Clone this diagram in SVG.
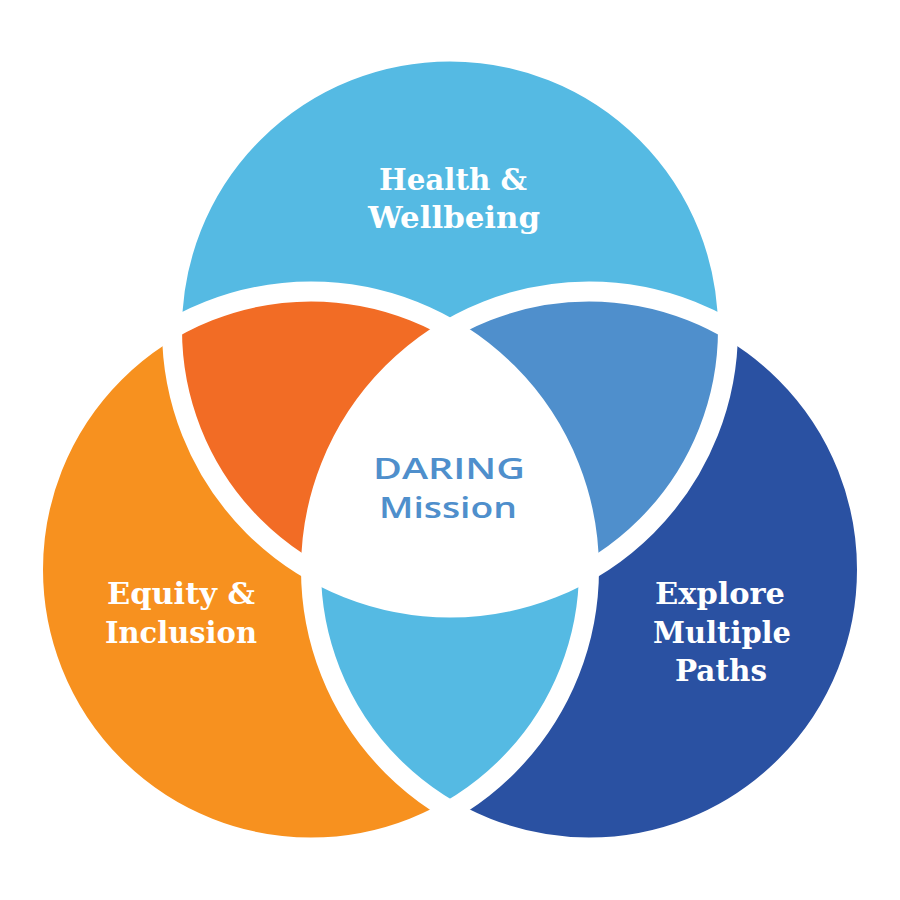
<svg xmlns="http://www.w3.org/2000/svg" width="900" height="900" viewBox="0 0 900 900">
  <style>
    .sep { fill: none; stroke: #ffffff; stroke-width: 20; }
    .lbl { font-family: "DejaVu Serif", "Liberation Serif", serif; font-weight: bold; font-size: 30px; fill: #ffffff; text-anchor: middle; }
    .ctr { font-family: "Open Sans", "Noto Sans", "Liberation Sans", sans-serif; font-weight: 600; font-size: 29px; fill: #4F8FCC; text-anchor: middle; }
  </style>
  <defs>
    <circle id="cT" cx="450" cy="329.5" r="278"/>
    <circle id="cL" cx="311" cy="569.5" r="278"/>
    <circle id="cR" cx="589" cy="569.5" r="278"/>
    <clipPath id="clipT"><use href="#cT"/></clipPath>
    <clipPath id="clipL"><use href="#cL"/></clipPath>
    <clipPath id="clipR"><use href="#cR"/></clipPath>
  </defs>
  <rect width="900" height="900" fill="#ffffff"/>

  <g id="node-health">
    <use href="#cT" fill="#55BAE3"/>
  </g>
  <g id="node-equity">
    <use href="#cL" fill="#F7911F"/>
  </g>
  <g id="node-explore">
    <use href="#cR" fill="#2A51A2"/>
  </g>

  <g id="overlaps">
    <use href="#cL" fill="#F26C25" clip-path="url(#clipT)"/>
    <use href="#cR" fill="#4F8FCC" clip-path="url(#clipT)"/>
    <use href="#cR" fill="#55BAE3" clip-path="url(#clipL)"/>
    <g clip-path="url(#clipR)">
      <use href="#cT" fill="#ffffff" clip-path="url(#clipL)"/>
    </g>
  </g>

  <g id="connectors">
    <use href="#cT" class="sep"/>
    <use href="#cL" class="sep"/>
    <use href="#cR" class="sep"/>
  </g>

  <g id="label-health">
    <text class="lbl" x="453" y="190" textLength="148" lengthAdjust="spacingAndGlyphs">Health &amp;</text>
    <text class="lbl" x="454" y="228" textLength="172" lengthAdjust="spacingAndGlyphs">Wellbeing</text>
  </g>
  <g id="label-equity">
    <text class="lbl" x="181" y="604" textLength="148" lengthAdjust="spacingAndGlyphs">Equity &amp;</text>
    <text class="lbl" x="181" y="643" textLength="152" lengthAdjust="spacingAndGlyphs">Inclusion</text>
  </g>
  <g id="label-explore">
    <text class="lbl" x="720" y="604" textLength="130" lengthAdjust="spacingAndGlyphs">Explore</text>
    <text class="lbl" x="722" y="643" textLength="138" lengthAdjust="spacingAndGlyphs">Multiple</text>
    <text class="lbl" x="721" y="681" textLength="92" lengthAdjust="spacingAndGlyphs">Paths</text>
  </g>
  <g id="node-mission">
    <text class="ctr" x="449" y="479" textLength="152" lengthAdjust="spacingAndGlyphs">DARING</text>
    <text class="ctr" x="448" y="518" textLength="138" lengthAdjust="spacingAndGlyphs">Mission</text>
  </g>
</svg>
